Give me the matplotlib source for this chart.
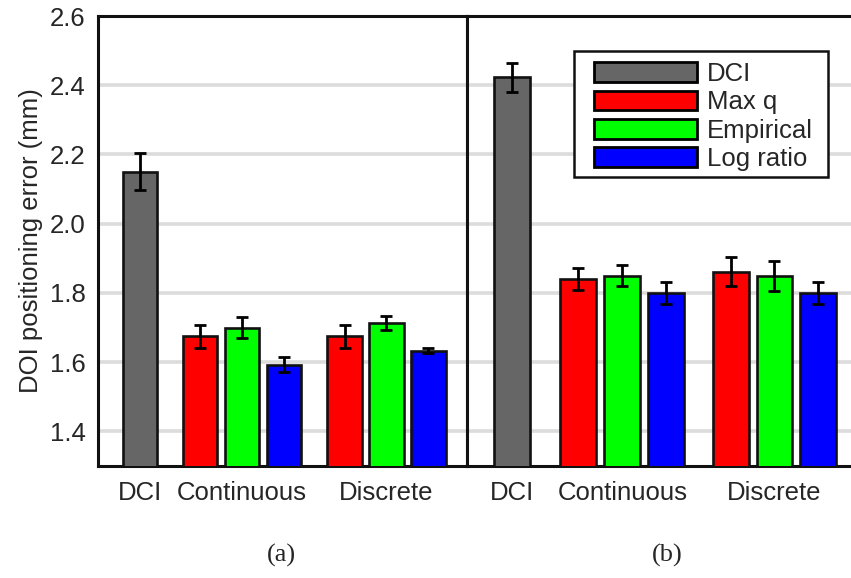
import matplotlib
matplotlib.use("Agg")
import matplotlib.pyplot as plt
from matplotlib.patches import Patch, Rectangle

plt.rcParams["font.family"] = ["Liberation Sans", "DejaVu Sans"]

# ---- data ----
methods = ["DCI", "Max q", "Empirical", "Log ratio"]
groups = ["DCI", "Continuous", "Discrete"]

# panel (a)
a_dci = 2.15
a_dci_err = 0.053
a_continuous = [1.675, 1.70, 1.593]
a_continuous_err = [0.033, 0.03, 0.021]
a_discrete = [1.675, 1.713, 1.633]
a_discrete_err = [0.033, 0.02, 0.007]

# panel (b)
b_dci = 2.423
b_dci_err = 0.042
b_continuous = [1.84, 1.85, 1.80]
b_continuous_err = [0.032, 0.03, 0.031]
b_discrete = [1.861, 1.85, 1.80]
b_discrete_err = [0.042, 0.043, 0.031]

yticks = [1.4, 1.6, 1.8, 2.0, 2.2, 2.4, 2.6]
colors = ["#666666", "#ff0000", "#00ff00", "#0000ff"]

FS = 18.5
TXT = "#262626"


def draw_panel(ax, dci, dci_err, cont, cont_err, disc, disc_err, centers):
    """Bars for one panel: DCI alone, then two groups of three methods."""
    bar_kw = dict(width=0.82, edgecolor="#111111", linewidth=1.9, zorder=3)
    err_kw = dict(fmt="none", ecolor="black", elinewidth=2.0, capsize=4.5,
                  capthick=2.0, zorder=4)

    ax.bar(centers[0], dci, color=colors[0], **bar_kw)
    ax.errorbar(centers[0], dci, yerr=dci_err, **err_kw)

    for c, vals, errs in [(centers[1], cont, cont_err), (centers[2], disc, disc_err)]:
        xs = [c + k - 1 for k in range(len(vals))]
        ax.bar(xs, vals, color=colors[1:], **bar_kw)
        ax.errorbar(xs, vals, yerr=errs, **err_kw)

    ax.set_ylim(1.3, 2.6)
    ax.set_xlim(0, 8.8)
    ax.set_yticks(yticks)
    ax.set_xticks(centers)
    ax.set_xticklabels(groups)
    ax.tick_params(length=0, labelsize=FS, colors=TXT, pad=9)
    ax.tick_params(axis="x", pad=11)
    ax.yaxis.grid(True, color="#dcdcdc", linewidth=2.6, zorder=0)
    ax.set_axisbelow(True)
    for sp in ax.spines.values():
        sp.set_linewidth(2.2)
        sp.set_color("#111111")


fig = plt.figure(figsize=(8.51, 5.78), dpi=100)

ax_a = fig.add_axes([98 / 851, 1 - 466 / 578, 369 / 851, 450 / 578])
ax_b = fig.add_axes([467 / 851, 1 - 466 / 578, 386 / 851, 450 / 578])

draw_panel(ax_a, a_dci, a_dci_err, a_continuous, a_continuous_err,
           a_discrete, a_discrete_err, [1.0, 3.43, 6.88])
draw_panel(ax_b, b_dci, b_dci_err, b_continuous, b_continuous_err,
           b_discrete, b_discrete_err, [1.03, 3.54, 7.01])

ax_a.set_ylabel("DOI positioning error (mm)", fontsize=FS, color=TXT, labelpad=5)
ax_b.tick_params(axis="y", labelleft=False)
ax_b.spines["right"].set_visible(False)

# legend box drawn separately so its padding matches the original
ax_b.add_patch(Rectangle((0.277, 0.642), 0.658, 0.28, transform=ax_b.transAxes,
                         facecolor="white", edgecolor="#111111", linewidth=1.8,
                         zorder=5))
handles = [Patch(facecolor=c, edgecolor="black", linewidth=2.0) for c in colors]
leg = ax_b.legend(handles, methods, loc="upper left", bbox_to_anchor=(0.329, 0.898),
                  fontsize=FS, frameon=False,
                  handlelength=4.0, handleheight=0.8, handletextpad=0.4,
                  labelspacing=0.17, borderpad=0, borderaxespad=0)
leg.set_zorder(6)
for t in leg.get_texts():
    t.set_color(TXT)

fig.text(281 / 851, 1 - 555 / 578, "(a)", ha="center", va="center",
         fontsize=19, family="Liberation Serif", color=TXT)
fig.text(667 / 851, 1 - 555 / 578, "(b)", ha="center", va="center",
         fontsize=19, family="Liberation Serif", color=TXT)

fig.savefig("out.png", dpi=100)
